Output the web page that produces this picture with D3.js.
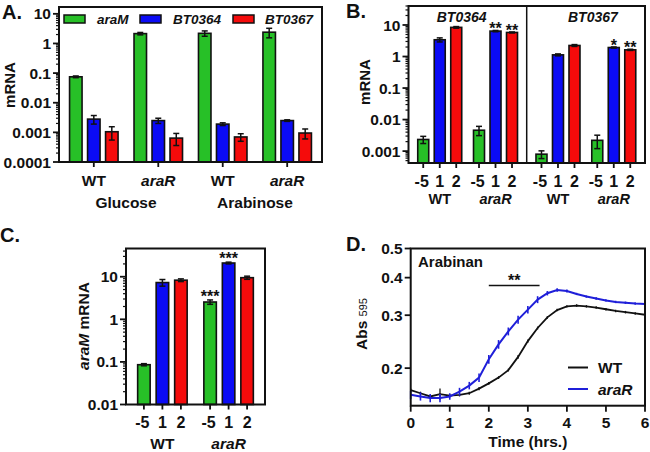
<!DOCTYPE html>
<html><head><meta charset="utf-8">
<script src="https://cdn.jsdelivr.net/npm/d3@7"></script>
<style>
body{margin:0;background:#fff}
text{font-family:"Liberation Sans",Arial,sans-serif;font-weight:bold;fill:#111}
</style>
</head><body>
<svg id="c" width="650" height="452"></svg>
<script>
// ---------------- DATA ----------------
// Panel A
const genesA = ["araM", "BT0364", "BT0367"];
const groupsA = ["gWT", "gAraR", "aWT", "aAraR"];
const strainLabelsA = ["WT", "araR", "WT", "araR"];
const conditionsA = ["Glucose", "Arabinose"];
const araM_A = [0.075, 2.15, 2.2, 2.4];
const araM_A_err = [0.005, 0.2, 0.45, 0.85];
const bt0364_A = [0.0028, 0.0025, 0.0019, 0.0025];
const bt0364_A_err = [0.0009, 0.0005, 0.0002, 0.00015];
const bt0367_A = [0.00105, 0.00064, 0.0007, 0.00095];
const bt0367_A_err = [0.0005, 0.00028, 0.0002, 0.00035];
const yTicksA = [10, 1, 0.1, 0.01, 0.001, 0.0001];

// Panel B
const panelsB = ["BT0364", "BT0367"];
const strainsB = ["WT", "araR"];
const timesB = ["-5", "1", "2"];
const bt0364_B = [[0.00234, 3.4, 8.4], [0.0046, 6.4, 5.8]];
const bt0364_B_err = [[0.0006, 0.5, 0.5], [0.0015, 0.3, 0.2]];
const bt0367_B = [[0.0008, 1.13, 2.24], [0.0022, 1.93, 1.63]];
const bt0367_B_err = [[0.00022, 0.08, 0.15], [0.001, 0.08, 0.07]];
const starsB = [["", "", ""], ["", "**", "**"], ["", "", ""], ["", "*", "**"]];
const yTicksB = [10, 1, 0.1, 0.01, 0.001];

// Panel C
const strainsC = ["WT", "araR"];
const timesC = ["-5", "1", "2"];
const araM_C = [[0.086, 7.3, 8.3], [2.55, 21, 9.5]];
const araM_C_err = [[0.005, 1.3, 0.6], [0.3, 1.0, 0.8]];
const starsC = [["", "", ""], ["***", "***", ""]];
const yTicksC = [10, 1, 0.1, 0.01];

// Panel D
const timeD = [0, 0.25, 0.5, 0.75, 1, 1.25, 1.5, 1.75, 2, 2.25, 2.5, 2.75, 3, 3.25, 3.5, 3.75, 4, 4.25, 4.5, 4.75, 5, 5.25, 5.5, 5.75, 6];
const wtD = [0.169, 0.165, 0.161, 0.164, 0.162, 0.163, 0.165, 0.171, 0.178, 0.186, 0.197, 0.218, 0.246, 0.272, 0.295, 0.312, 0.321, 0.323, 0.321, 0.318, 0.314, 0.31, 0.307, 0.304, 0.301];
const wtD_err = [0.002, 0.002, 0.002, 0.007, 0.002, 0.002, 0.002, 0.002, 0.002, 0.002, 0.002, 0.003, 0.003, 0.003, 0.003, 0.003, 0.003, 0.003, 0.003, 0.003, 0.003, 0.003, 0.003, 0.003, 0.003];
const araRD = [0.163, 0.161, 0.159, 0.159, 0.161, 0.167, 0.175, 0.186, 0.214, 0.24, 0.265, 0.29, 0.313, 0.338, 0.355, 0.364, 0.361, 0.353, 0.346, 0.341, 0.336, 0.332, 0.33, 0.328, 0.327];
const araRD_err = [0.005, 0.005, 0.005, 0.005, 0.004, 0.005, 0.005, 0.006, 0.007, 0.008, 0.008, 0.009, 0.009, 0.009, 0.006, 0.005, 0.004, 0.003, 0.003, 0.003, 0.003, 0.003, 0.003, 0.003, 0.003];
const yTicksD = [0.5, 0.4, 0.3, 0.2];
const xTicksD = [0, 1, 2, 3, 4, 5, 6];
const legendD = ["WT", "araR"];

// ---------------- STYLE ----------------
const GREEN = "#27c027", BLUE = "#0b0bf5", RED = "#f50b0b";
const LINEBLUE = "#1f1fd9";
const svg = d3.select("#c");
const fmt = d => String(+d.toPrecision(2));
const TICK_FS = 15.5;
const STAR_FS = 16;

function logTicks(g, y, x, majors, majorLen, minorLen) {
  const [lo, hi] = y.domain();
  const isMajor = d => majors.some(m => Math.abs(m - d) / m < 1e-6);
  const all = y.ticks(50).filter(t => t >= lo * 0.999 && t <= hi * 1.001);
  g.selectAll(null).data(all).join("line")
    .attr("x1", x).attr("x2", d => x - (isMajor(d) ? majorLen : minorLen))
    .attr("y1", d => y(d)).attr("y2", d => y(d))
    .attr("stroke", "#111").attr("stroke-width", d => isMajor(d) ? 1.8 : 1.2);
  g.selectAll(null).data(majors).join("text")
    .attr("x", x - majorLen - 2).attr("y", d => y(d)).attr("dy", "0.36em")
    .attr("text-anchor", "end").attr("font-size", TICK_FS).text(fmt);
}

function box(g, x0, x1, y0, y1) {
  g.append("rect").attr("x", x0).attr("y", y0).attr("width", x1 - x0).attr("height", y1 - y0)
    .attr("fill", "none").attr("stroke", "#111").attr("stroke-width", 2);
}

function bar(g, cx, w, y, v, e, color) {
  const base = y.range()[0];
  g.append("rect").attr("x", cx - w / 2).attr("y", y(v)).attr("width", w).attr("height", base - y(v))
    .attr("fill", color).attr("stroke", "#111").attr("stroke-width", 1.6);
  const lo = Math.max(v - e, y.domain()[0]);
  const top = y(v + e), bot = y(lo);
  g.append("line").attr("x1", cx).attr("x2", cx).attr("y1", top).attr("y2", bot).attr("stroke", "#111").attr("stroke-width", 1.5);
  [top, bot].forEach(yy => g.append("line").attr("x1", cx - 3).attr("x2", cx + 3).attr("y1", yy).attr("y2", yy).attr("stroke", "#111").attr("stroke-width", 1.5));
}

function panelLetter(x, y, t) {
  svg.append("text").attr("x", x).attr("y", y).attr("font-size", 20).text(t);
}

// ---------------- PANEL A ----------------
(function () {
  const g = svg.append("g");
  const X0 = 59, X1 = 322, Y0 = 7, Y1 = 162;
  const y = d3.scaleLog().domain([0.0001, 17]).range([Y1, Y0]);
  const xg = d3.scalePoint().domain(groupsA).range([X0, X1]).padding(0.54);
  const xs = d3.scalePoint().domain(genesA).range([-18, 18]);
  const vals = [araM_A, bt0364_A, bt0367_A], errs = [araM_A_err, bt0364_A_err, bt0367_A_err];
  const cols = [GREEN, BLUE, RED];
  groupsA.forEach((grp, i) => {
    genesA.forEach((gene, j) => bar(g, xg(grp) + xs(gene), 12.5, y, vals[j][i], errs[j][i], cols[j]));
    g.append("line").attr("x1", xg(grp)).attr("x2", xg(grp)).attr("y1", Y1).attr("y2", Y1 + 5).attr("stroke", "#111").attr("stroke-width", 1.8);
    g.append("text").attr("x", xg(grp)).attr("y", 186).attr("text-anchor", "middle").attr("font-size", 15.5)
      .attr("font-style", strainLabelsA[i] === "araR" ? "italic" : "normal").text(strainLabelsA[i]);
  });
  conditionsA.forEach((c, k) => {
    const cx = (xg(groupsA[2 * k]) + xg(groupsA[2 * k + 1])) / 2;
    g.append("text").attr("x", cx).attr("y", 208).attr("text-anchor", "middle").attr("font-size", 15.5).text(c);
  });
  box(g, X0, X1, Y0, Y1);
  logTicks(g, y, X0, yTicksA, 6, 3);
  g.append("text").attr("transform", `translate(15,85) rotate(-90)`).attr("text-anchor", "middle").attr("font-size", 15).text("mRNA");
  // legend
  const lx = [64, 140, 233], tx = [97, 173, 265];
  genesA.forEach((gene, j) => {
    g.append("rect").attr("x", lx[j]).attr("y", 15).attr("width", 21).attr("height", 8).attr("fill", cols[j]).attr("stroke", "#111").attr("stroke-width", 1.5);
    g.append("text").attr("x", tx[j]).attr("y", 24).attr("font-size", 13.5).attr("font-style", "italic").text(gene);
  });
  panelLetter(2, 19, "A.");
})();

// ---------------- PANEL B ----------------
(function () {
  const g = svg.append("g");
  const X0 = 408.5, X1 = 645, Y0 = 6, Y1 = 163, XM = 526.7;
  const y = d3.scaleLog().domain([0.00042, 40]).range([Y1, Y0]);
  const xp = d3.scaleBand().domain(panelsB).range([X0, X1]);
  const xg = d3.scalePoint().domain(strainsB).range([0, xp.bandwidth()]).padding(0.56);
  const xs = d3.scalePoint().domain(timesB).range([-16.5, 16.5]);
  const vals = [bt0364_B, bt0367_B], errs = [bt0364_B_err, bt0367_B_err];
  const cols = [GREEN, BLUE, RED];
  const titleShift = [-6, 7];
  panelsB.forEach((p, pi) => {
    strainsB.forEach((s, si) => {
      timesB.forEach((t, ti) => {
        const cx = xp(p) + xg(s) + xs(t);
        bar(g, cx, 11, y, vals[pi][si][ti], errs[pi][si][ti], cols[ti]);
        g.append("line").attr("x1", cx).attr("x2", cx).attr("y1", Y1).attr("y2", Y1 + 5).attr("stroke", "#111").attr("stroke-width", 1.8);
        g.append("text").attr("x", cx + (t === "-5" ? -1.5 : 0)).attr("y", 187).attr("text-anchor", "middle").attr("font-size", 16).text(t);
        const st = starsB[pi * 2 + si][ti];
        if (st) g.append("text").attr("x", cx).attr("y", y(vals[pi][si][ti] + errs[pi][si][ti]) + 4).attr("text-anchor", "middle").attr("font-size", STAR_FS).text(st);
      });
      g.append("text").attr("x", xp(p) + xg(s)).attr("y", 204).attr("text-anchor", "middle").attr("font-size", 14.5)
        .attr("font-style", s === "araR" ? "italic" : "normal").text(s);
    });
    g.append("text").attr("x", xp(p) + xp.bandwidth() / 2 + titleShift[pi]).attr("y", 22).attr("text-anchor", "middle")
      .attr("font-size", 14).attr("font-style", "italic").text(p);
  });
  box(g, X0, X1, Y0, Y1);
  g.append("line").attr("x1", XM).attr("x2", XM).attr("y1", Y0).attr("y2", Y1).attr("stroke", "#111").attr("stroke-width", 1.5);
  logTicks(g, y, X0, yTicksB, 6, 3);
  g.append("text").attr("transform", `translate(370,82) rotate(-90)`).attr("text-anchor", "middle").attr("font-size", 15).text("mRNA");
  panelLetter(346, 18, "B.");
})();

// ---------------- PANEL C ----------------
(function () {
  const g = svg.append("g");
  const X0 = 126, X1 = 265, Y0 = 248.5, Y1 = 404.5;
  const y = d3.scaleLog().domain([0.01, 46]).range([Y1, Y0]);
  const xg = d3.scalePoint().domain(strainsC).range([X0, X1]).padding(0.55);
  const xs = d3.scalePoint().domain(timesC).range([-18.5, 18.5]);
  const cols = [GREEN, BLUE, RED];
  strainsC.forEach((s, si) => {
    timesC.forEach((t, ti) => {
      const cx = xg(s) + xs(t);
      bar(g, cx, 12.5, y, araM_C[si][ti], araM_C_err[si][ti], cols[ti]);
      g.append("line").attr("x1", cx).attr("x2", cx).attr("y1", Y1).attr("y2", Y1 + 5).attr("stroke", "#111").attr("stroke-width", 1.8);
      g.append("text").attr("x", cx + (t === "-5" ? -1.5 : 0)).attr("y", 428).attr("text-anchor", "middle").attr("font-size", 16).text(t);
      const st = starsC[si][ti];
      if (st) g.append("text").attr("x", cx).attr("y", y(araM_C[si][ti] + araM_C_err[si][ti]) + 2).attr("text-anchor", "middle").attr("font-size", STAR_FS).text(st);
    });
    g.append("text").attr("x", xg(s)).attr("y", 449).attr("text-anchor", "middle").attr("font-size", 15.5)
      .attr("font-style", s === "araR" ? "italic" : "normal").text(s);
  });
  box(g, X0, X1, Y0, Y1);
  logTicks(g, y, X0, yTicksC, 6, 3);
  const yl = g.append("text").attr("transform", `translate(89,326) rotate(-90)`).attr("text-anchor", "middle").attr("font-size", 15.5);
  yl.append("tspan").attr("font-style", "italic").text("araM");
  yl.append("tspan").text(" mRNA");
  panelLetter(0, 242, "C.");
})();

// ---------------- PANEL D ----------------
(function () {
  const g = svg.append("g");
  const X0 = 410.7, X1 = 645, Y0 = 248.5, Y1 = 405.7;
  const x = d3.scaleLinear().domain([0, 6]).range([X0, X1]);
  const y = d3.scaleLog().domain([0.15, 0.5]).range([Y1, Y0]);
  const series = [{v: wtD, e: wtD_err, c: "#111", w: 1.8, ew: 1.3}, {v: araRD, e: araRD_err, c: LINEBLUE, w: 2, ew: 1.6}];
  series.forEach(s => {
    g.append("path").datum(timeD.map((t, i) => [t, s.v[i]]))
      .attr("d", d3.line().x(d => x(d[0])).y(d => y(d[1])))
      .attr("fill", "none").attr("stroke", s.c).attr("stroke-width", s.w);
    g.selectAll(null).data(timeD.map((t, i) => [t, s.v[i], s.e[i]])).join("line")
      .attr("x1", d => x(d[0])).attr("x2", d => x(d[0]))
      .attr("y1", d => y(d[1] + d[2])).attr("y2", d => y(Math.max(d[1] - d[2], 0.15)))
      .attr("stroke", s.c).attr("stroke-width", s.ew);
  });
  box(g, X0, X1, Y0, Y1);
  g.selectAll(null).data(yTicksD).join("line").attr("x1", X0).attr("x2", X0 - 6).attr("y1", d => y(d)).attr("y2", d => y(d)).attr("stroke", "#111").attr("stroke-width", 1.8);
  g.selectAll(null).data(yTicksD).join("text").attr("x", X0 - 8).attr("y", d => y(d)).attr("dy", "0.36em").attr("text-anchor", "end").attr("font-size", TICK_FS).text(d => d.toFixed(1));
  g.selectAll(null).data(xTicksD).join("line").attr("x1", d => x(d)).attr("x2", d => x(d)).attr("y1", Y1).attr("y2", Y1 + 6).attr("stroke", "#111").attr("stroke-width", 1.8);
  g.selectAll(null).data(xTicksD).join("text").attr("x", d => x(d)).attr("y", 428).attr("text-anchor", "middle").attr("font-size", TICK_FS).text(d => d);
  g.append("text").attr("x", (X0 + X1) / 2).attr("y", 447).attr("text-anchor", "middle").attr("font-size", 15.5).text("Time (hrs.)");
  const yl = g.append("text").attr("transform", `translate(367,324) rotate(-90)`).attr("text-anchor", "middle").attr("font-size", 15.5);
  yl.append("tspan").text("Abs ");
  yl.append("tspan").attr("font-size", 11).attr("font-weight", "normal").text("595");
  g.append("text").attr("x", 418).attr("y", 267).attr("font-size", 15).text("Arabinan");
  // significance bar
  g.append("line").attr("x1", x(2)).attr("x2", x(3.3)).attr("y1", 285.5).attr("y2", 285.5).attr("stroke", "#111").attr("stroke-width", 1.5);
  g.append("text").attr("x", x(2.65)).attr("y", 286).attr("text-anchor", "middle").attr("font-size", STAR_FS).text("**");
  // legend
  const ly = [367.5, 389];
  legendD.forEach((l, i) => {
    g.append("line").attr("x1", 568).attr("x2", 588).attr("y1", ly[i]).attr("y2", ly[i]).attr("stroke", series[i].c).attr("stroke-width", 2);
    g.append("text").attr("x", 598).attr("y", ly[i] + 5.5).attr("font-size", 15.5).attr("font-style", i === 1 ? "italic" : "normal").text(l);
  });
  panelLetter(346, 251, "D.");
})();
</script>
</body></html>
